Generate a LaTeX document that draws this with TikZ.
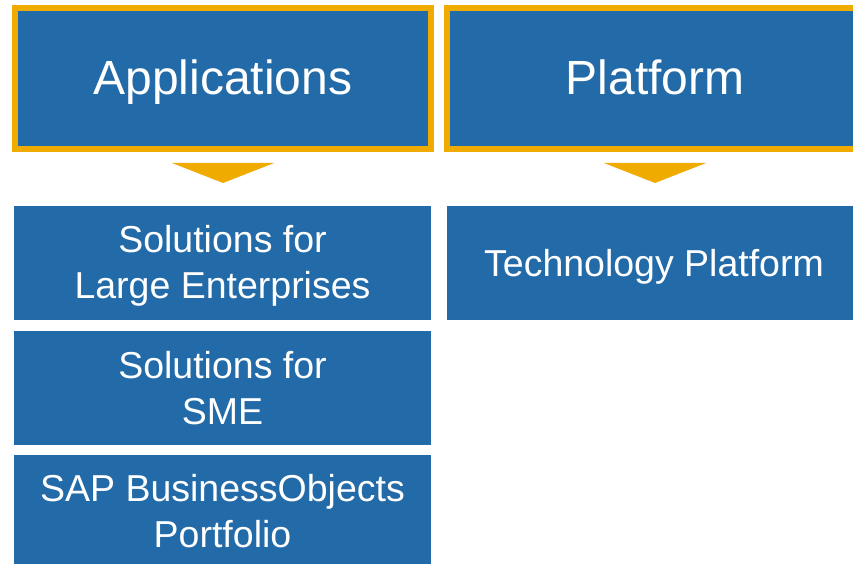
\documentclass[tikz,border=0pt]{standalone}
\usepackage{fontspec}
\setmainfont{Liberation Sans}
\definecolor{sapblue}{RGB}{34,107,168}
\definecolor{sapgold}{RGB}{240,171,0}
\begin{document}
\begin{tikzpicture}[x=1pt,y=-1pt,
  head/.style={draw=sapgold, line width=6pt, fill=sapblue, text=white,
    minimum width=416pt, minimum height=141pt, inner sep=0pt,
    text height=32pt, text depth=0pt,
    font=\fontsize{48pt}{56pt}\selectfont},
  item/.style={fill=sapblue, minimum width=417pt, minimum height=114pt, inner sep=0pt},
  itemtext/.style={text=white, inner sep=0pt, align=center,
    font=\fontsize{37.5pt}{46pt}\selectfont},
  pointer/.style={fill=sapgold}]
\clip (0,0) rectangle (853,564);
\fill[white] (0,0) rectangle (853,564);
\node[head] (apps) at (223,78.5) {Applications};
\node[head] (plat) at (655,78.5) {Platform};
\fill[pointer] ([xshift=-51pt,yshift=-11pt]apps.south) -- ([xshift=51pt,yshift=-11pt]apps.south) -- ([yshift=-31pt]apps.south) -- cycle;
\fill[pointer] ([xshift=-51pt,yshift=-11pt]plat.south) -- ([xshift=51pt,yshift=-11pt]plat.south) -- ([yshift=-31pt]plat.south) -- cycle;
\node[item] (large) at (222.5,263) {};
\node[item] (sme) at (222.5,388) {};
\node[item] (bo) at (222.5,512) {};
\node[item, minimum width=414pt] (tech) at (654,263) {};
\node[itemtext, yshift=-3.3pt] (largetext) at (large.center) {Solutions for\\Large Enterprises};
\node[itemtext] (smetext) at (sme.center) {Solutions for\\SME};
\node[itemtext, yshift=1pt] (botext) at (bo.center) {SAP BusinessObjects\\Portfolio};
\node[itemtext, text height=27pt, text depth=0pt] (techtext) at (tech.center) {Technology Platform};
\end{tikzpicture}
\end{document}
